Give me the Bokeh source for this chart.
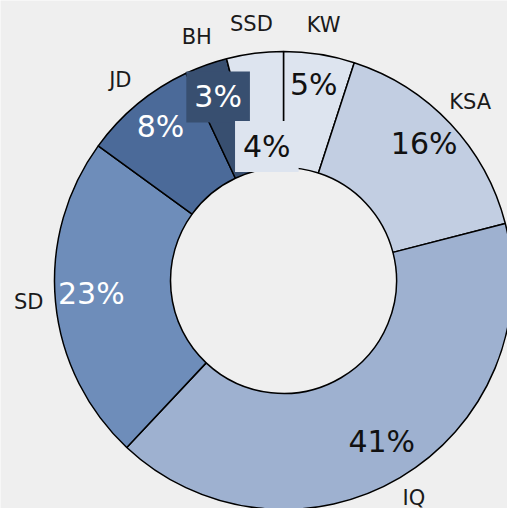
import numpy as np
from bokeh.plotting import figure
from bokeh.models import ColumnDataSource, Range1d
from bokeh.core.properties import value
from bokeh.embed import file_html
from bokeh.resources import INLINE

# ---- data ----
categories = ["KW", "KSA", "IQ", "SD", "JD", "BH", "SSD"]
shares = [5, 16, 41, 23, 8, 3, 4]

# ---- styles ----
slice_colors = ["#dde4ef", "#c2cee2", "#9eb1d0", "#6e8dba", "#4b6a99", "#384f70", "#dde4ef"]
label_colors = ["#111111", "#111111", "#111111", "#ffffff", "#ffffff", "#ffffff", "#111111"]
BG = "#efefef"
FONT = "DejaVu Sans"

W, H = 507, 508
CX, CY = 283, H - 280
R_OUT, R_IN = 229, 113
R_PCT, R_PCT_IN, R_CAT = 193, 133, 256

frac = np.array(shares, dtype=float) / sum(shares)
cum_end = np.cumsum(frac)
cum_start = cum_end - frac
start = np.pi / 2 - cum_start * 2 * np.pi
end = np.pi / 2 - cum_end * 2 * np.pi
mid = (start + end) / 2

# percentage label radius: move a small label inward if its neighbour is also small
small = frac < 0.05
pct_r = np.array([R_PCT_IN if (small[i] and small[i - 1] and i > 0) else R_PCT
                  for i in range(len(frac))], dtype=float)
bg_alpha = [1.0 if s else 0.0 for s in small]
y_off = [-2 if s else -5 for s in small]

src = ColumnDataSource(dict(
    cat=categories,
    start=start, end=end,
    color=slice_colors,
    tcolor=label_colors,
    pct=[f"{s}%" for s in shares],
    px=CX + pct_r * np.cos(mid), py=CY + pct_r * np.sin(mid),
    cx=CX + R_CAT * np.cos(mid), cy=CY + R_CAT * np.sin(mid),
    bga=bg_alpha, yoff=y_off,
))

p = figure(width=W, height=H, output_backend="svg", toolbar_location=None,
           x_range=Range1d(0, W), y_range=Range1d(0, H),
           min_border=0, outline_line_color=None,
           background_fill_color=BG, border_fill_color=BG)
p.axis.visible = False
p.grid.visible = False

p.annular_wedge(x=CX, y=CY, inner_radius=R_IN, outer_radius=R_OUT,
                start_angle="start", end_angle="end", direction="clock",
                fill_color="color", line_color="black", line_width=1.5, source=src)

p.text(x="px", y="py", text="pct", text_color="tcolor",
       text_align="center", text_baseline="middle", y_offset="yoff",
       text_font=value(FONT), text_font_size="30px",
       background_fill_color="color", background_fill_alpha="bga",
       padding=8, source=src)

p.text(x="cx", y="cy", text="cat", text_color="#1a1a1a",
       text_align="center", text_baseline="middle", y_offset=-3,
       text_font=value(FONT), text_font_size="21px", source=src)

html = file_html(p, INLINE)
html = html.replace("<body>", f'<body style="margin:0;background:{BG};">', 1)
open("out.html", "w").write(html)
